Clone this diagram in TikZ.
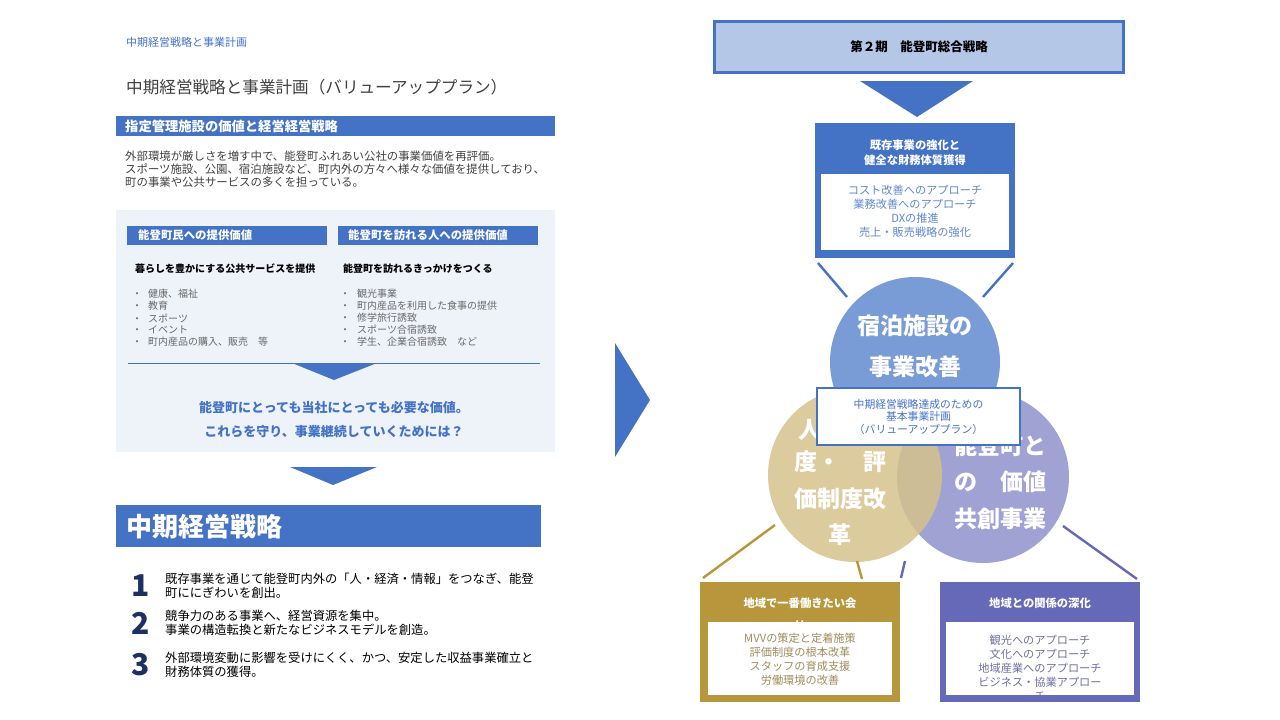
\documentclass[tikz,border=0pt]{standalone}
\usepackage{fontspec}
\setmainfont{Noto Sans CJK JP}
\usetikzlibrary{positioning}

\definecolor{navblue}{RGB}{68,114,196}
\definecolor{panelbg}{RGB}{238,242,249}
\definecolor{planfill}{RGB}{180,199,231}
\definecolor{bodygray}{RGB}{64,64,64}
\definecolor{bulletgray}{RGB}{105,105,105}
\definecolor{numnavy}{RGB}{28,48,98}
\definecolor{hotelblue}{RGB}{122,156,214}
\definecolor{staffgold}{RGB}{214,194,140}
\definecolor{areapurple}{RGB}{160,162,212}
\definecolor{goldbox}{RGB}{184,150,60}
\definecolor{purplebox}{RGB}{102,104,184}
\definecolor{goldtext}{RGB}{160,140,92}
\definecolor{purpletext}{RGB}{112,112,158}

\newcommand{\fsz}[2]{\fontsize{#1}{#2}\selectfont}

\begin{document}
\begin{tikzpicture}[x=1pt, y=-1pt,
  txt/.style={inner sep=0pt, anchor=west},
  whitehead/.style={inner sep=0pt, text=white, font={\fsz{#1}{15}\bfseries}, align=center},
  boxtext/.style={inner sep=0pt, font={\fsz{11.2}{14}}, align=center},
  circtext/.style={inner sep=0pt, text=white, font={\fsz{23}{36.5}\bfseries}, align=center},
  link/.style={line width=2.4pt}]
  \useasboundingbox (0,0) rectangle (1280,720);

  % left page: values and strategy
  \node[txt, text=navblue, font=\fsz{11}{13}] (crumb) at (126,42) {中期経営戦略と事業計画};
  \node[txt, text=bodygray, font=\fsz{16.6}{20}] (title) at (126,87) {中期経営戦略と事業計画（バリューアッププラン）};
  \fill[navblue] (116,116) rectangle (555,136);
  \node[txt, text=white, font={\fsz{13.3}{15}\bfseries}] (valuehead) at (125,126) {指定管理施設の価値と経営経営戦略};
  \node[txt, text=bodygray, font=\fsz{11.4}{13}, align=left] (intro) at (125,169)
    {外部環境が厳しさを増す中で、能登町ふれあい公社の事業価値を再評価。\\
     スポーツ施設、公園、宿泊施設など、町内外の方々へ様々な価値を提供しており、\\
     町の事業や公共サービスの多くを担っている。};

  \fill[panelbg] (116,210) rectangle (555,452);
  \fill[navblue] (127,226) rectangle (327,245);
  \fill[navblue] (338,226) rectangle (538,245);
  \node[txt, text=white, font={\fsz{11.4}{13}\bfseries}] (residhead) at (138,235.5) {能登町民への提供価値};
  \node[txt, text=white, font={\fsz{11.4}{13}\bfseries}] (visithead) at (348,235.5) {能登町を訪れる人への提供価値};
  \node[txt, font={\fsz{10}{12}\bfseries}] (residlead) at (135,269) {暮らしを豊かにする公共サービスを提供};
  \node[txt, font={\fsz{10}{12}\bfseries}] (visitlead) at (343,269) {能登町を訪れるきっかけをつくる};
  \foreach \t [count=\i] in {健康、福祉, 教育, スポーツ, イベント, 町内産品の購入、販売　等} {
    \node[txt, text=bulletgray, font=\fsz{10}{12}] (lb\i) at (132,282+12*\i) {・\hspace{6pt}\t};
  }
  \foreach \t [count=\i] in {観光事業, 町内産品を利用した食事の提供, 修学旅行誘致, スポーツ合宿誘致, 学生、企業合宿誘致　など} {
    \node[txt, text=bulletgray, font=\fsz{10}{12}] (rb\i) at (340,282+12*\i) {・\hspace{7pt}\t};
  }
  \draw[navblue, line width=1pt] (128,363) -- (540,363);
  \fill[navblue] (292,363) -- (377,363) -- (334,380) -- cycle;
  \node[text=navblue, font={\fsz{13}{24.5}\bfseries}, align=center] (needed) at (334,419.5)
    {能登町にとっても当社にとっても必要な価値。\\これらを守り、事業継続していくためには？};

  \fill[navblue] (290,467) -- (377,467) -- (333,485) -- cycle;
  \fill[navblue] (116,505) rectangle (541,547);
  \node[txt, text=white, font={\fsz{26}{30}\bfseries}] (strategy) at (126,527) {中期経営戦略};

  \foreach \n/\y/\ta/\tb in {1/586/既存事業を通じて能登町内外の「人・経済・情報」をつなぎ、能登/町ににぎわいを創出。,
                             2/623/競争力のある事業へ、経営資源を集中。/事業の構造転換と新たなビジネスモデルを創造。,
                             3/664.5/外部環境変動に影響を受けにくく、かつ、安定した収益事業確立と/財務体質の獲得。} {
    \node[txt, text=numnavy, font={\fsz{30}{30}\bfseries}] (num\n) at (131,\y) {\n};
    \node[txt, font=\fsz{12.3}{14}] (goal\n) at (165,\y-7) {\ta};
    \node[txt, font=\fsz{12.3}{14}] (goal\n b) at (165,\y+7) {\tb};
  }

  % arrow between pages
  \fill[navblue] (615,343) -- (650,400) -- (615,457) -- cycle;

  % right page: plan
  \node[draw=navblue, line width=3pt, fill=planfill, minimum width=409pt, minimum height=51pt,
        font={\fsz{12.5}{15}\bfseries}] (plan) at (919,47) {第２期　能登町総合戦略};
  \fill[navblue] (860,81) -- (973,81) -- (917,117) -- cycle;

  \node[fill=navblue, minimum width=200pt, minimum height=135pt] (basebox) at (915,190.5) {};
  \node[whitehead=11.3] (basehead) at (915,152.5) {既存事業の強化と\\健全な財務体質獲得};
  \fill[white] (821,174) rectangle (1009,250);
  \node[boxtext, text=navblue!85!white] (baselist) at (915,211)
    {コスト改善へのアプローチ\\業務改善へのアプローチ\\DXの推進\\売上・販売戦略の強化};
  \coordinate (bl1) at (818,263); \coordinate (bl2) at (847,297);
  \coordinate (br1) at (1013,263); \coordinate (br2) at (983,297);
  \draw[link, navblue] (bl1) -- (bl2);
  \draw[link, navblue] (br1) -- (br2);

  % three circles
  \fill[hotelblue] (915,362) circle[radius=85];
  \fill[areapurple] (983,477) circle[radius=86];
  \fill[staffgold, opacity=0.85] (855,475) circle[radius=87];
  \node[circtext, font={\fsz{23}{41}\bfseries}] (hotel) at (915,346) {宿泊施設の\\事業改善};
  \node[circtext] (staffa) at (810,430) {人};
  \node[circtext] (staff) at (840,498.5) {度・　評\\価制度改\\革};
  \node[circtext] (area) at (1000,482) {能登町と\\の　価値\\共創事業};
  \node[draw=navblue, line width=2pt, fill=white, minimum width=203pt, minimum height=57pt,
        text=navblue, font=\fsz{10.8}{12.5}, align=center] (core) at (918.5,416.5)
    {中期経営戦略達成のための\\基本事業計画\\（バリューアッププラン）};

  % bottom boxes
  \coordinate (gl1) at (775,525); \coordinate (gl2) at (703,578);
  \coordinate (gs1) at (857,561); \coordinate (gs2) at (862,579);
  \coordinate (ps1) at (905,561); \coordinate (ps2) at (901,578);
  \coordinate (pr1) at (1063,526); \coordinate (pr2) at (1137,579);
  \draw[link, goldbox] (gl1) -- (gl2);
  \draw[link, goldbox] (gs1) -- (gs2);
  \draw[link, purplebox] (ps1) -- (ps2);
  \draw[link, purplebox] (pr1) -- (pr2);

  \node[fill=goldbox, minimum width=200pt, minimum height=120pt] (staffbox) at (800,642) {};
  \node[whitehead=11.3] (staffhead) at (800,603) {地域で一番働きたい会};
  \node[whitehead=11.3] (staffhead2) at (800,626) {社};
  \fill[white] (708,622) rectangle (892,695);
  \node[boxtext, text=goldtext] (stafflist) at (800,659)
    {MVVの策定と定着施策\\評価制度の根本改革\\スタッフの育成支援\\労働環境の改善};

  \node[fill=purplebox, minimum width=200pt, minimum height=120pt] (areabox) at (1040,642) {};
  \node[whitehead=11.3] (areahead) at (1040,603) {地域との関係の深化};
  \fill[white] (946,622) rectangle (1134,695);
  \begin{scope}
    \clip (946,622) rectangle (1134,695);
    \node[boxtext, text=purpletext] (arealist) at (1040,668)
      {観光へのアプローチ\\文化へのアプローチ\\地域産業へのアプローチ\\ビジネス・協業アプロー\\チ};
  \end{scope}
\end{tikzpicture}
\end{document}
